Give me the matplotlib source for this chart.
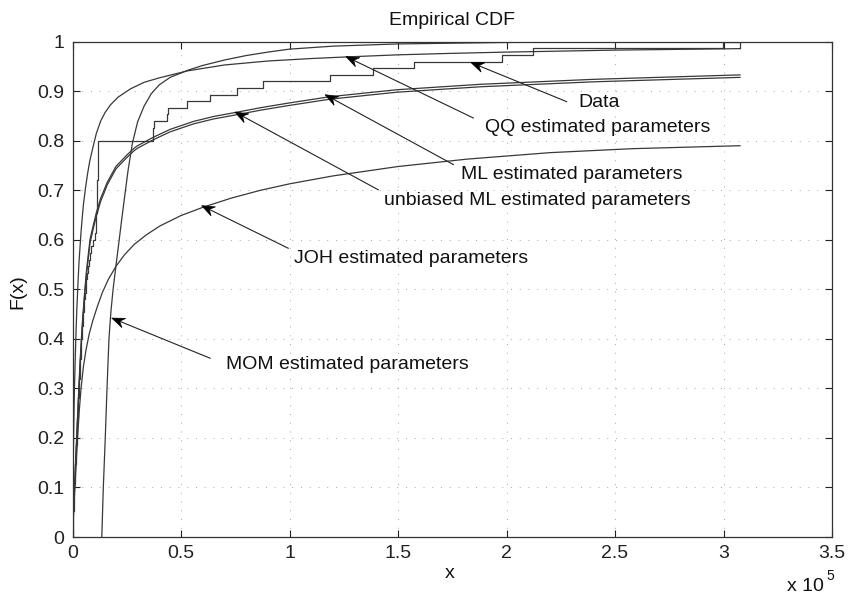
import numpy as np
import matplotlib
matplotlib.use("Agg")
import matplotlib.pyplot as plt
from matplotlib.patches import Polygon
from matplotlib.transforms import IdentityTransform

plt.rcParams['font.family'] = ['Liberation Sans', 'DejaVu Sans']

# ---------------- data (x in units of 1e5) ----------------
# sorted sample values behind the empirical CDF (n = 75)
data_sorted = [0.001, 0.002, 0.003, 0.004, 0.005, 0.006, 0.008, 0.009, 0.011, 0.012,
               0.013, 0.015, 0.016, 0.018, 0.019, 0.020, 0.022, 0.023, 0.025, 0.026,
               0.027, 0.029, 0.030, 0.032, 0.033, 0.035, 0.036, 0.038, 0.040, 0.041,
               0.043, 0.045, 0.047, 0.049, 0.051, 0.054, 0.057, 0.060, 0.063, 0.066,
               0.070, 0.074, 0.079, 0.085, 0.095, 0.104, 0.108, 0.109, 0.110, 0.111,
               0.112, 0.113, 0.114, 0.115, 0.116, 0.116, 0.117, 0.118, 0.118, 0.119,
               0.370, 0.373, 0.376, 0.437, 0.441, 0.529, 0.634, 0.758, 0.879, 1.187,
               1.383, 1.575, 1.978, 2.121, 2.999]
data_end = 3.076

qq_x = [0.0, 0.001, 0.002, 0.004, 0.006, 0.009, 0.012, 0.016, 0.020, 0.025, 0.030,
        0.040, 0.050, 0.060, 0.070, 0.080, 0.096, 0.110, 0.130, 0.150, 0.176, 0.210,
        0.268, 0.330, 0.400, 0.529, 0.700, 0.900, 1.100, 1.250, 1.500, 1.750, 2.000,
        2.500, 3.076]
qq_F = [0.0, 0.05, 0.10, 0.17, 0.23, 0.30, 0.35, 0.41, 0.46, 0.51, 0.555,
        0.62, 0.67, 0.705, 0.735, 0.76, 0.79, 0.815, 0.84, 0.857, 0.873, 0.888,
        0.905, 0.918, 0.927, 0.941, 0.953, 0.961, 0.966, 0.969, 0.9735, 0.9765, 0.979,
        0.983, 0.986]

mom_x = [0.135, 0.142, 0.151, 0.159, 0.168, 0.177, 0.187, 0.200, 0.213, 0.225, 0.237,
         0.256, 0.276, 0.300, 0.330, 0.363, 0.400, 0.450, 0.529, 0.600, 0.700, 0.800,
         0.900, 1.000, 1.200, 1.500, 2.000, 2.500, 3.076]
mom_F = [0.0, 0.10, 0.20, 0.30, 0.40, 0.455, 0.50, 0.547, 0.592, 0.635, 0.676,
         0.74, 0.795, 0.838, 0.87, 0.895, 0.913, 0.928, 0.942, 0.952, 0.963, 0.972,
         0.979, 0.985, 0.991, 0.9955, 0.9985, 0.9995, 0.9999]

ml_x = [0.0, 0.002, 0.005, 0.010, 0.020, 0.028, 0.035, 0.045, 0.055, 0.065, 0.081,
        0.095, 0.110, 0.130, 0.145, 0.160, 0.200, 0.250, 0.284, 0.300, 0.372, 0.450,
        0.557, 0.650, 0.749, 0.870, 0.994, 1.187, 1.494, 1.880, 2.400, 3.076]
ml_F = [0.0, 0.025, 0.06, 0.11, 0.21, 0.29, 0.355, 0.43, 0.49, 0.54, 0.602,
        0.628, 0.655, 0.684, 0.70, 0.716, 0.748, 0.771, 0.785, 0.79, 0.807, 0.823,
        0.839, 0.849, 0.857, 0.867, 0.876, 0.889, 0.903, 0.914, 0.924, 0.933]
uml_F = [0.0, 0.023, 0.057, 0.105, 0.203, 0.282, 0.347, 0.422, 0.482, 0.532, 0.594,
         0.621, 0.648, 0.678, 0.694, 0.711, 0.743, 0.766, 0.780, 0.785, 0.802, 0.818,
         0.834, 0.844, 0.852, 0.862, 0.871, 0.884, 0.898, 0.909, 0.919, 0.928]

joh_x = [0.0, 0.002, 0.004, 0.008, 0.013, 0.018, 0.024, 0.031, 0.039, 0.050, 0.062,
         0.077, 0.093, 0.115, 0.138, 0.165, 0.201, 0.240, 0.285, 0.340, 0.403, 0.500,
         0.603, 0.730, 0.866, 1.000, 1.200, 1.500, 1.820, 2.200, 2.580, 3.076]
joh_F = [0.0, 0.02, 0.04, 0.075, 0.115, 0.158, 0.205, 0.254, 0.298, 0.343, 0.377,
         0.41, 0.436, 0.466, 0.494, 0.52, 0.547, 0.57, 0.591, 0.61, 0.628, 0.649,
         0.666, 0.684, 0.70, 0.713, 0.729, 0.748, 0.763, 0.776, 0.784, 0.79]

x_ticks = [0, 0.5, 1, 1.5, 2, 2.5, 3, 3.5]
x_tick_labels = ["0", "0.5", "1", "1.5", "2", "2.5", "3", "3.5"]
y_ticks = [0, 0.1, 0.2, 0.3, 0.4, 0.5, 0.6, 0.7, 0.8, 0.9, 1]
y_tick_labels = ["0", "0.1", "0.2", "0.3", "0.4", "0.5", "0.6", "0.7", "0.8", "0.9", "1"]

# annotations: label, text position, arrow tail, arrow head
labels = ["Data", "QQ estimated parameters", "ML estimated parameters",
          "unbiased ML estimated parameters", "JOH estimated parameters",
          "MOM estimated parameters"]
text_pos = [(2.426, 0.877), (2.419, 0.826), (2.300, 0.731), (2.142, 0.679),
            (1.559, 0.563), (1.265, 0.349)]
tails = [(2.277, 0.879), (1.847, 0.846), (1.755, 0.752), (1.409, 0.701),
         (0.994, 0.583), (0.634, 0.361)]
heads = [(1.836, 0.958), (1.260, 0.970), (1.164, 0.893), (0.749, 0.858),
         (0.595, 0.669), (0.181, 0.442)]

# ---------------- figure ----------------
fig = plt.figure(figsize=(8.48, 5.96), dpi=100)
ax = fig.add_axes([72.5 / 848, 59 / 596, (832 - 72.5) / 848, (537 - 41.7) / 596])

lc = '#383838'
lw = 0.9
n = len(data_sorted)
F_emp = np.arange(1, n + 1) / n
xs = np.r_[0.0, data_sorted, data_end]
Fs = np.r_[0.0, F_emp, 1.0]
ax.step(xs, Fs, where='post', color=lc, lw=lw)
ax.plot([data_end, data_end], [F_emp[-2], 1.0], color=lc, lw=lw)

ax.plot(qq_x, qq_F, color=lc, lw=lw)
ax.plot(mom_x, mom_F, color=lc, lw=lw)
ax.plot(ml_x, ml_F, color=lc, lw=lw)
ax.plot(ml_x, uml_F, color=lc, lw=lw)
ax.plot(joh_x, joh_F, color=lc, lw=lw)

ax.set_xlim(0, 3.5)
ax.set_ylim(0, 1)
ax.set_xticks(x_ticks)
ax.set_xticklabels(x_tick_labels)
ax.set_yticks(y_ticks)
ax.set_yticklabels(y_tick_labels)
ax.tick_params(direction='in', length=5, width=0.8, top=True, right=True,
               labelsize=14, colors='#222222', pad=6)
for s in ax.spines.values():
    s.set_linewidth(0.9)
    s.set_color('#333333')

ax.grid(True, color='#a8a8a8', linestyle=(0, (1, 8)), linewidth=0.7)
ax.set_axisbelow(True)

ax.set_title("Empirical CDF", fontsize=14, pad=12, color='#111111')
fig.text(18 / 848, 1 - 292 / 596, "F(x)", rotation=90, fontsize=14,
         ha='center', va='center', color='#111111')
fig.text(450 / 848, 1 - 574 / 596, "x", fontsize=14, ha='center', va='center', color='#111111')
fig.text(787 / 848, 1 - 591 / 596, "x 10", fontsize=14, ha='left', va='baseline', color='#111111')
fig.text(826 / 848, 1 - 580 / 596, "5", fontsize=10, ha='left', va='baseline', color='#111111')

# arrows with notched (MATLAB-like) heads
head_len, head_half, notch = 13.0, 5.0, 4.5
for lab, tp, tl, hd in zip(labels, text_pos, tails, heads):
    ax.text(tp[0], tp[1], lab, fontsize=14, ha='center', va='center', color='#111111')
    p_tail = ax.transData.transform(tl)
    p_head = ax.transData.transform(hd)
    d = p_head - p_tail
    u = d / np.hypot(*d)
    nrm = np.array([-u[1], u[0]])
    back = p_head - u * (head_len - notch)
    ax.plot([tl[0], ax.transData.inverted().transform(back)[0]],
            [tl[1], ax.transData.inverted().transform(back)[1]],
            color='#222222', lw=0.8)
    poly = [p_head,
            p_head - u * head_len + nrm * head_half,
            back,
            p_head - u * head_len - nrm * head_half]
    fig.patches.append(Polygon(poly, closed=True, transform=IdentityTransform(),
                               facecolor='#000000', edgecolor='#000000', lw=0.5,
                               figure=fig))

fig.savefig("out.png", dpi=100)
